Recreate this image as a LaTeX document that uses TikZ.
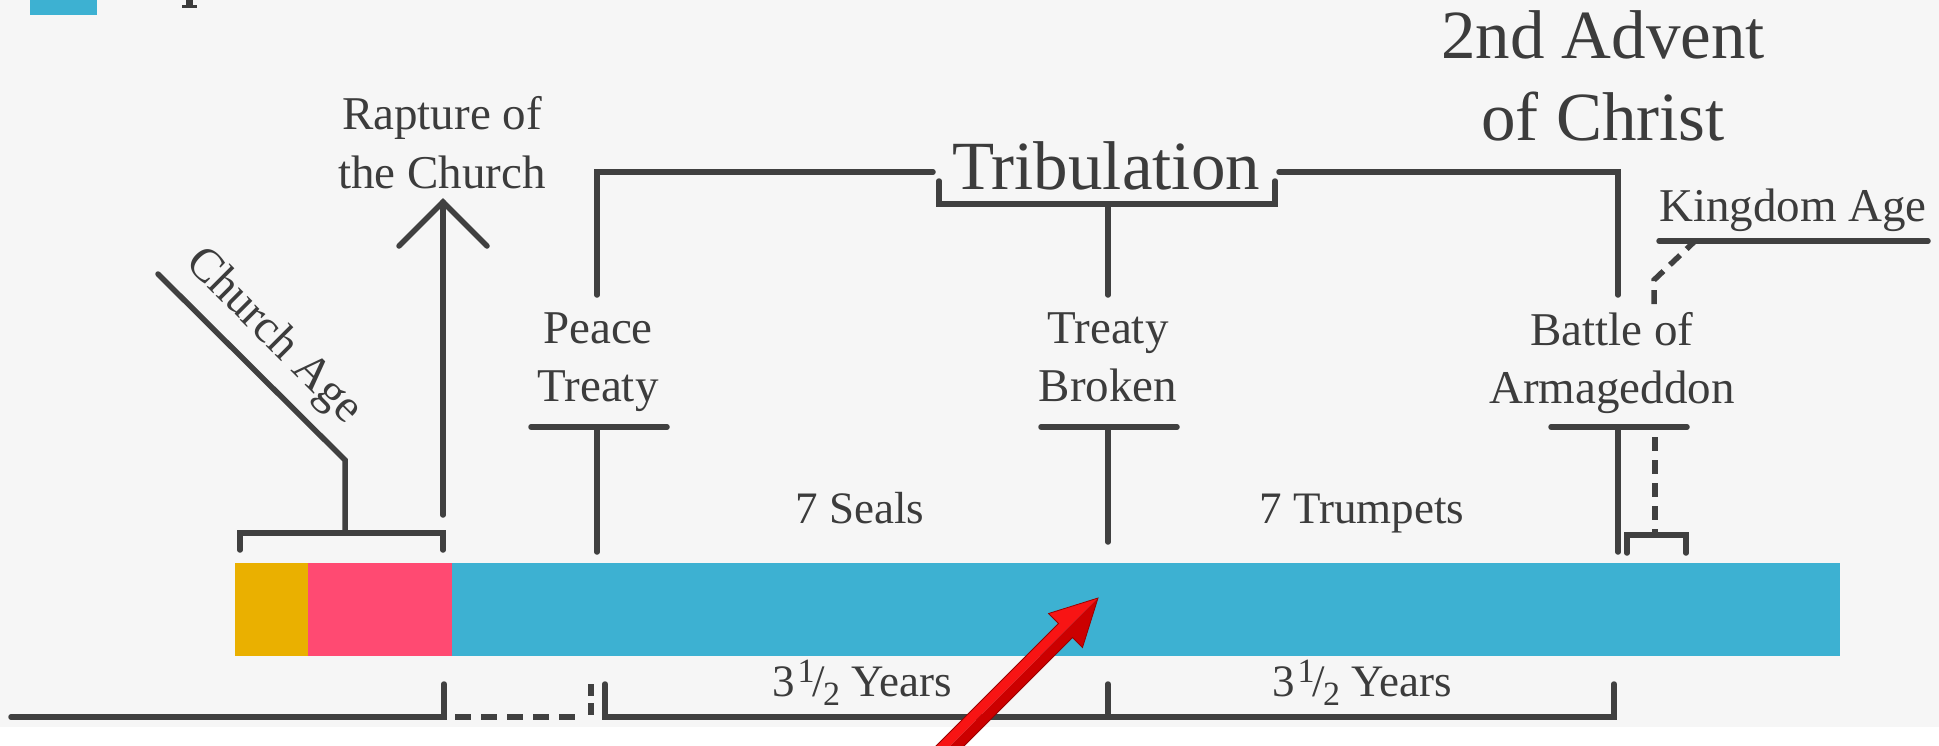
\documentclass[tikz,border=0pt]{standalone}
\usepackage{fontspec}
\setmainfont{Liberation Serif}
\definecolor{bg}{HTML}{F6F6F6}
\definecolor{linec}{HTML}{404040}
\definecolor{txt}{HTML}{3C3C3C}
\definecolor{barblue}{HTML}{3DB1D2}
\definecolor{barpink}{HTML}{FF4A72}
\definecolor{baryel}{HTML}{EAB000}
\definecolor{redlt}{HTML}{F81414}
\definecolor{reddk}{HTML}{CC0000}
\newcommand\fXL{\fontsize{69}{80}\selectfont}
\newcommand\fL{\fontsize{69}{80}\selectfont}
\newcommand\fM{\fontsize{47}{56}\selectfont}
\newcommand\fS{\fontsize{45}{54}\selectfont}
\newcommand\halfyears{3\kern3pt\raisebox{0.3em}{\fontsize{34}{36}\selectfont 1}\kern-2pt/\kern-2pt\raisebox{-0.22em}{\fontsize{34}{36}\selectfont 2}\ Years}
\begin{document}
\begin{tikzpicture}[x=1pt,y=-1pt,
  ln/.style={line width=5.5pt, draw=linec, line cap=round, line join=miter},
  dln/.style={ln, line cap=butt, dash pattern=on 16pt off 10pt},
  lbl/.style={text=txt, inner sep=0pt, anchor=base},
]
\useasboundingbox (0,0) rectangle (1939,745);
\fill[bg] (0,0) rectangle (1939,727);
\fill[white] (0,727) rectangle (1939,745);

% partial legend at top-left
\fill[barblue] (30,0) rectangle (97,15);
\fill[txt] (186,0) rectangle (193,6);
\fill[txt] (182,5) rectangle (197,8);

% timeline bar
\fill[baryel] (235,563) rectangle (308,656);
\fill[barpink] (308,563) rectangle (452,656);
\fill[barblue] (452,563) rectangle (1840,656);

% Church Age
\coordinate (cbl) at (240,550);
\coordinate (cbr) at (443,550);
\coordinate (cstem) at (345,533);
\coordinate (celb) at (345,460);
\coordinate (cend) at (158,274);
\draw[ln] (cbl) -- (240,533) -- (443,533) -- (cbr);
\draw[ln] (cstem) -- (celb) -- (cend);
\node[lbl, anchor=center, rotate=-45, font=\fM] (churchage) at (273,337) {Church Age};

% Rapture
\coordinate (rbot) at (443,515);
\coordinate (rtop) at (443,202);
\draw[ln] (rbot) -- (rtop);
\draw[ln] (399,246) -- (rtop) -- (487,246);
\node[lbl, font=\fM] (rap1) at (442,129) {Rapture of};
\node[lbl, font=\fM] (rap2) at (442,188) {the Church};

% Tribulation frame
\coordinate (ptop) at (597,295);
\coordinate (atop) at (1618,295);
\draw[ln] (ptop) -- (597,172) -- (933,172);
\draw[ln] (939,181) -- (939,204) -- (1275,204) -- (1275,181);
\draw[ln] (1279,172) -- (1618,172) -- (atop);
\draw[ln] (1108,204) -- (1108,295);
\node[lbl, font=\fXL] (trib) at (1106,189) {Tribulation};

% Peace Treaty
\node[lbl, font=\fM] (pt1) at (598,343) {Peace};
\node[lbl, font=\fM] (pt2) at (598,401) {Treaty};
\draw[ln] (531,427) -- (667,427);
\draw[ln] (597,427) -- (597,552);

% Treaty Broken
\node[lbl, font=\fM] (tb1) at (1108,343) {Treaty};
\node[lbl, font=\fM] (tb2) at (1108,401) {Broken};
\draw[ln] (1041,427) -- (1177,427);
\draw[ln] (1108,427) -- (1108,542);

% Battle of Armageddon
\node[lbl, font=\fM] (ba1) at (1612,345) {Battle of};
\node[lbl, font=\fM] (ba2) at (1612,403) {Armageddon};
\draw[ln] (1551,427) -- (1687,427);
\draw[ln] (1618,427) -- (1618,552);
\draw[ln, line cap=butt, dash pattern=on 14pt off 9pt] (1655,437) -- (1655,534);
\draw[ln] (1627,553) -- (1627,535) -- (1686,535) -- (1686,553);

% Kingdom Age
\node[lbl, anchor=base west, font=\fM] (kingdom) at (1659,221) {Kingdom Age};
\draw[ln] (1659,241) -- (1928,241);
\draw[ln, line cap=butt, dash pattern=on 14pt off 9pt] (1654,304) -- (1654,280) -- (1695,241);

% 2nd Advent
\node[lbl, font=\fL] (adv1) at (1603,58) {2nd Advent};
\node[lbl, font=\fL] (adv2) at (1603,140) {of Christ};

% 7 Seals / 7 Trumpets
\node[lbl, font=\fS] (seals) at (860,523) {7 Seals};
\node[lbl, font=\fS] (trump) at (1362,523) {7 Trumpets};

% bottom timeline
\draw[ln] (11,717) -- (444,717) -- (444,684);
\draw[dln] (455,717) -- (582,717);
\draw[ln, line cap=butt, dash pattern=on 12pt off 7pt] (591,684) -- (591,717);
\draw[ln] (605,684) -- (605,717) -- (1614,717) -- (1614,684);
\draw[ln] (1108,684) -- (1108,717);
\node[lbl, font=\fS] (y1) at (862,696) {\halfyears};
\node[lbl, font=\fS] (y2) at (1362,696) {\halfyears};

% red arrow
\begin{scope}
\clip (0,0) rectangle (1939,745);
\fill[redlt] (1098,598) -- (1048.5,613.5) -- (1058.5,623.5) -- (929,753) -- (936,760) -- (1065.5,630.5) -- cycle;
\fill[reddk] (1098,598) -- (1082.5,647.5) -- (1072.5,637.5) -- (943,767) -- (936,760) -- (1065.5,630.5) -- cycle;
\draw[red!60!black, line width=0.8pt, line join=miter] (1098,598) -- (1082.5,647.5) -- (1072.5,637.5) -- (943,767) -- (929,753) -- (1058.5,623.5) -- (1048.5,613.5) -- cycle;
\end{scope}
\end{tikzpicture}
\end{document}
